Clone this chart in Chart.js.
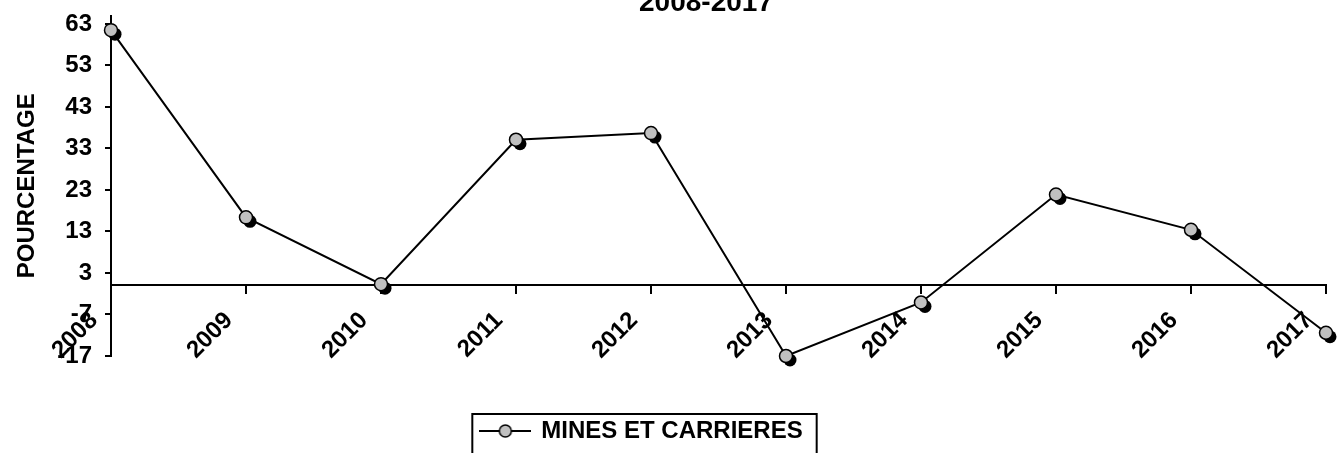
<!DOCTYPE html>
<html lang="fr">
<head>
<meta charset="UTF-8">
<title>Mines et carrieres 2008-2017</title>
<script src="https://cdn.jsdelivr.net/npm/chart.js"></script>
<style>
  html, body { margin: 0; padding: 0; background: #fff; }
  #wrap { width: 1338px; height: 453px; }
</style>
</head>
<body>
<div id="wrap"><canvas id="chart"></canvas></div>
<script>
// data
const years = ['2008', '2009', '2010', '2011', '2012', '2013', '2014', '2015', '2016', '2017'];
const minesEtCarrieres = [61.5, 16.4, 0.3, 35.1, 36.7, -17.0, -4.1, 21.9, 13.4, -11.4];
const yTicks = [-17, -7, 3, 13, 23, 33, 43, 53, 63];
const yMin = -17;
const yMax = 65;

Chart.defaults.font.family = "'Liberation Sans', Arial, sans-serif";
Chart.defaults.font.weight = 'bold';
Chart.defaults.color = '#000';

// legend symbol: line with a grey marker
const icon = document.createElement('canvas');
icon.width = 52;
icon.height = 16;
const ic = icon.getContext('2d');
ic.strokeStyle = '#000';
ic.lineWidth = 2;
ic.beginPath(); ic.moveTo(0, 8); ic.lineTo(52, 8); ic.stroke();
ic.beginPath(); ic.arc(26, 8, 6, 0, Math.PI * 2);
ic.fillStyle = '#c0c0c0'; ic.fill();
ic.lineWidth = 1.5; ic.stroke();

// black drop shadow behind each marker
const markerShadow = {
  id: 'markerShadow',
  beforeDatasetsDraw(chart) {
    const ctx = chart.ctx;
    ctx.save();
    ctx.fillStyle = '#000';
    chart.getDatasetMeta(0).data.forEach(pt => {
      ctx.beginPath();
      ctx.arc(pt.x + 4, pt.y + 4, 6.5, 0, Math.PI * 2);
      ctx.fill();
    });
    ctx.restore();
  }
};

// nudge title/legend sideways and frame the legend
const blocks = {
  id: 'blocks',
  afterLayout(chart) {
    if (chart.titleBlock) { chart.titleBlock.left += 43; chart.titleBlock.right += 43; }
    chart.legend.left -= 21;
    chart.legend.right -= 21;
  },
  afterDraw(chart) {
    const hb = chart.legend.legendHitBoxes[0];
    if (!hb) return;
    const ctx = chart.ctx;
    ctx.save();
    ctx.strokeStyle = '#000';
    ctx.lineWidth = 2;
    ctx.strokeRect(hb.left - 9, hb.top + hb.height / 2 - 17, hb.width + 23, 60);
    ctx.restore();
  }
};

new Chart(document.getElementById('chart'), {
  type: 'line',
  data: {
    labels: years,
    datasets: [{
      label: 'MINES ET CARRIERES',
      data: minesEtCarrieres,
      borderColor: '#000',
      borderWidth: 2,
      tension: 0,
      pointRadius: 6.5,
      pointHoverRadius: 6.5,
      pointBackgroundColor: '#c0c0c0',
      pointBorderColor: '#000',
      pointBorderWidth: 1.5,
      clip: false
    }]
  },
  options: {
    responsive: true,
    maintainAspectRatio: false,
    animation: false,
    layout: { padding: { left: 0, right: 12, top: 0, bottom: 0 } },
    scales: {
      x: {
        position: { y: 0 },
        offset: false,
        afterFit(scale) {
          scale.paddingLeft = 0;
          scale.paddingRight = 0;
          scale.paddingTop = 0;
          scale.paddingBottom = 0;
        },
        grid: { drawOnChartArea: false, drawTicks: true, tickLength: 8, color: '#000', lineWidth: 2 },
        border: { display: true, color: '#000', width: 2 },
        ticks: {
          autoSkip: false,
          minRotation: 45,
          maxRotation: 45,
          padding: 13,
          labelOffset: -17,
          font: { size: 24, weight: 'bold' }
        }
      },
      y: {
        min: yMin,
        max: yMax,
        afterBuildTicks(scale) {
          scale.ticks = yTicks.map(v => ({ value: v }));
        },
        afterFit(scale) {
          scale.width = 111;
          scale.paddingTop = 0;
          scale.paddingBottom = 0;
        },
        grid: { drawOnChartArea: false, drawTicks: true, tickLength: 6, color: '#000', lineWidth: 2 },
        border: { display: true, color: '#000', width: 2 },
        ticks: { padding: 13, font: { size: 24, weight: 'bold' } },
        title: {
          display: true,
          text: 'POURCENTAGE',
          font: { size: 24, weight: 'bold' },
          padding: { top: 13, bottom: 3 }
        }
      }
    },
    plugins: {
      title: {
        display: true,
        text: '2008-2017',
        font: { size: 28, weight: 'bold' },
        padding: { top: -14, bottom: -4 }
      },
      legend: {
        position: 'bottom',
        title: { display: true, text: '', font: { size: 10 }, padding: { top: 0, bottom: 41 } },
        labels: {
          usePointStyle: true,
          pointStyle: icon,
          pointStyleWidth: 48,
          padding: 10,
          font: { size: 24, weight: 'bold' }
        }
      },
      tooltip: { enabled: false }
    }
  },
  plugins: [markerShadow, blocks]
});
</script>
</body>
</html>
